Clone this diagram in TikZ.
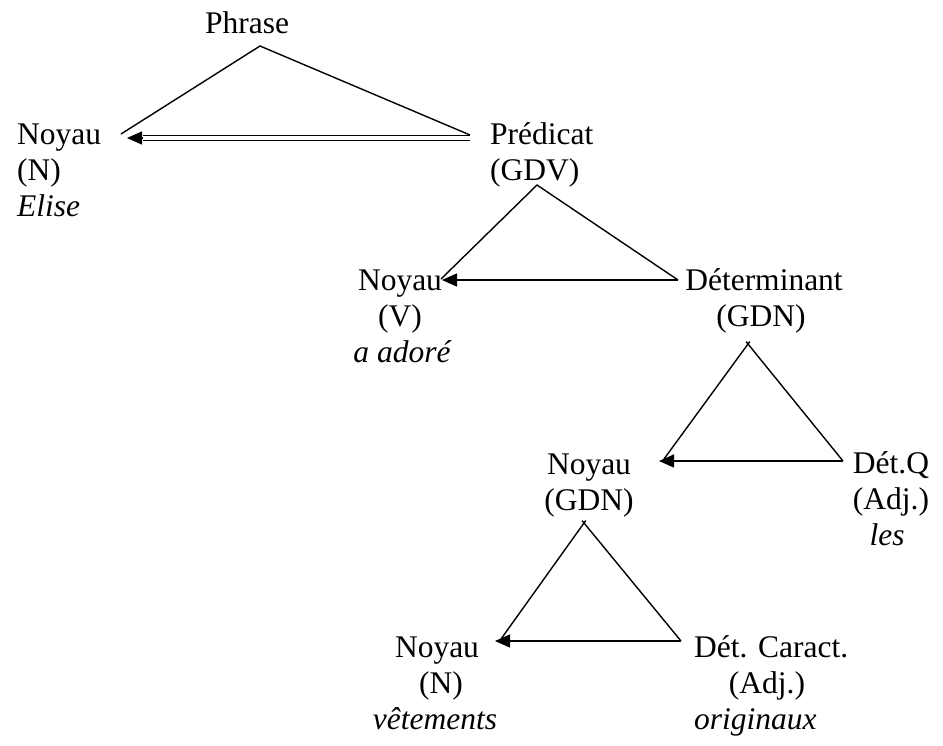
\documentclass[tikz,border=0pt]{standalone}
\usepackage{fontspec}
\setmainfont{Liberation Serif}
\usetikzlibrary{arrows.meta}
\begin{document}
\begin{tikzpicture}[x=1pt,y=-1pt,
  lbl/.style={inner sep=0pt, font=\fontsize{31.5}{36}\selectfont},
  ln/.style={line width=1.4pt},
  arr/.style={ln, -{Triangle[length=15pt,width=13pt]}},
  tick/.style={ln, shorten >=-3pt}]
\useasboundingbox[fill=white] (0,0) rectangle (943,745);
% labels
\node[lbl,anchor=base] (phrase) at (247,33) {Phrase};
\node[lbl,anchor=base west] (noyA) at (17,144) {Noyau};
\node[lbl,anchor=base west] (noyAcat) at (17,180) {(N)};
\node[lbl,anchor=base west] (noyAw) at (17,216) {\itshape Elise};
\node[lbl,anchor=base west] (pred) at (490,144) {Prédicat};
\node[lbl,anchor=base west] (predcat) at (490,180) {(GDV)};
\node[lbl,anchor=base] (noyB) at (400,290) {Noyau};
\node[lbl,anchor=base] (noyBcat) at (400,326) {(V)};
\node[lbl,anchor=base] (noyBw) at (402,362) {\itshape a adoré};
\node[lbl,anchor=base] (det) at (764,290) {Déterminant};
\node[lbl,anchor=base] (detcat) at (761,326) {(GDN)};
\node[lbl,anchor=base] (noyC) at (589,474) {Noyau};
\node[lbl,anchor=base] (noyCcat) at (589,510) {(GDN)};
\node[lbl,anchor=base] (detq) at (891,473) {Dét.Q};
\node[lbl,anchor=base] (detqcat) at (891,509) {(Adj.)};
\node[lbl,anchor=base] (detqw) at (887,545) {\itshape les};
\node[lbl,anchor=base] (noyD) at (437,657) {Noyau};
\node[lbl,anchor=base] (noyDcat) at (441,693) {(N)};
\node[lbl,anchor=base] (noyDw) at (435,729) {\itshape vêtements};
\node[lbl,anchor=base west] (car) at (694,657) {Dét. Caract.};
\node[lbl,anchor=base] (carcat) at (767,693) {(Adj.)};
\node[lbl,anchor=base west] (carw) at (694,729) {\itshape originaux};
% connector points
\coordinate (a1) at (260,46);  \coordinate (l1) at (121,134); \coordinate (r1) at (470,135);
\coordinate (d1s) at (470,138); \coordinate (d1e) at (127,138);
\coordinate (a2) at (537,185); \coordinate (l2) at (441,279); \coordinate (r2) at (678,280); \coordinate (t2) at (442,280);
\coordinate (a3) at (748,344); \coordinate (l3) at (664,459); \coordinate (r3) at (843,461); \coordinate (t3) at (659,461);
\coordinate (a4) at (584,523); \coordinate (l4) at (501,639); \coordinate (r4) at (681,641); \coordinate (t4) at (495,641);
% triangle 1 (Phrase)
\draw[ln] (l1) -- (a1) -- (r1);
\draw[arr, shorten <=320pt] (d1s) -- (d1e);
\draw[ln, line width=1.3pt, double, double distance=3.2pt, shorten >=15.5pt] (d1s) -- (d1e);
% triangle 2 (Prédicat)
\draw[ln] (l2) -- (a2) -- (r2);
\draw[arr] (r2) -- (t2);
% triangle 3 (Déterminant)
\draw[tick] (l3) -- (a3);
\draw[tick] (r3) -- (a3);
\draw[arr] (r3) -- (t3);
% triangle 4 (Noyau GDN)
\draw[tick] (l4) -- (a4);
\draw[tick] (r4) -- (a4);
\draw[arr] (r4) -- (t4);
\end{tikzpicture}
\end{document}
